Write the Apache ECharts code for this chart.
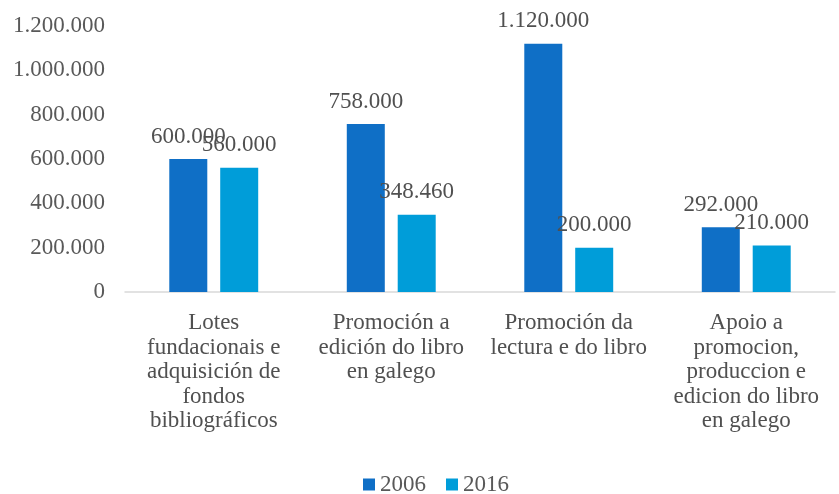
<!DOCTYPE html>
<html><head><meta charset="utf-8">
<script src="https://cdn.jsdelivr.net/npm/echarts@6/dist/echarts.min.js"></script>
<style>html,body{margin:0;padding:0;background:#fff}#c{width:839px;height:494px}</style>
</head><body><div id="c"></div>
<script>
const categories = [
  "Lotes\nfundacionais e\nadquisición de\nfondos\nbibliográficos",
  "Promoción a\nedición do libro\nen galego",
  "Promoción da\nlectura e do libro",
  "Apoio a\npromocion,\nproduccion e\nedicion do libro\nen galego"
];
const seriesNames = ["2006", "2016"];
const values2006 = [600000, 758000, 1120000, 292000];
const values2016 = [560000, 348460, 200000, 210000];
const colors = ["#0F6FC6", "#009DD9"];

function fmt(v){ return String(Math.round(v)).replace(/\B(?=(\d{3})+(?!\d))/g, "."); }
const font = "'Liberation Serif','Times New Roman',serif";
const chart = echarts.init(document.getElementById('c'), null, {renderer:'canvas'});
const mk = (name, data, color) => ({
  name, type:'bar', data, barWidth:38, barGap:'34%',
  itemStyle:{color},
  label:{show:true, position:'top', distance:11, formatter:p=>fmt(p.value),
    fontFamily:font, fontSize:23, color:'#505050'}
});
chart.setOption({
  animation:false,
  textStyle:{fontFamily:font},
  grid:{left:125, right:4, top:26, bottom:202, containLabel:false},
  legend:{top:468, left:358, itemWidth:12, itemHeight:12, itemGap:20,
    icon:'rect', textStyle:{fontFamily:font, fontSize:23, color:'#595959'},
    data:seriesNames},
  xAxis:{type:'category', data:categories,
    axisLine:{lineStyle:{color:'#d9d9d9', width:1.5}}, axisTick:{show:false},
    axisLabel:{interval:0, fontFamily:font, fontSize:23, color:'#505050', lineHeight:24.5, margin:19}},
  yAxis:{type:'value', min:0, max:1200000, interval:200000,
    axisLine:{show:false}, axisTick:{show:false}, splitLine:{show:false},
    axisLabel:{formatter:v=>fmt(v), fontFamily:font, fontSize:23, color:'#595959', margin:20}},
  series:[mk(seriesNames[0], values2006, colors[0]), mk(seriesNames[1], values2016, colors[1])]
});
</script></body></html>
